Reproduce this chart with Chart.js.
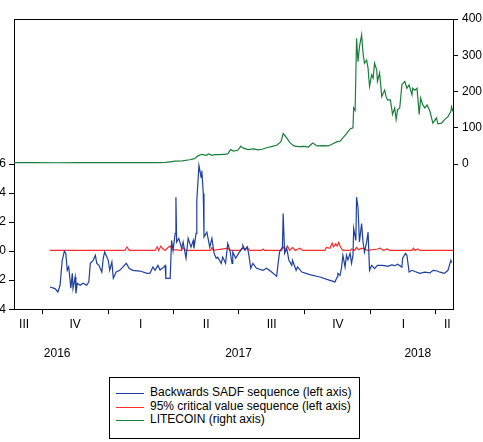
<!DOCTYPE html>
<html>
<head>
<meta charset="utf-8">
<script src="https://cdn.jsdelivr.net/npm/chart.js@4.4.1/dist/chart.umd.min.js"></script>
<style>
  html, body { margin: 0; padding: 0; background: #fff; }
  #wrap   { position: relative; width: 483px; height: 442px; overflow: hidden; }
  #box    { position: absolute; left: 0; top: 0; width: 483px; height: 386px; }
  #legend { position: absolute; left: 109px; top: 377px; width: 251px; height: 62px;
            box-sizing: border-box; border: 1px solid #000; padding-top: 8px;
            font: 12px "Liberation Sans", Arial, sans-serif; color: #000; background: #fff; }
  .row      { position: relative; height: 13.7px; line-height: 13.7px; padding-left: 40px; white-space: nowrap; }
  .row span { position: absolute; left: 6px; top: 7px; width: 28px; height: 1px; }
</style>
</head>
<body>
<div id="wrap">
  <div id="box"><canvas id="chart"></canvas></div>
  <div id="legend"></div>
</div>
<script>
// ─── data (x = days since 2016-10-01) ─────────────────────────────────────────
const X_MIN = -39, X_MAX = 571;

const quarterTicks    = [0, 92, 182, 273, 365, 457, 547];
const quarterLabelPos = [-25, 46, 137, 228, 319, 411, 502, 563];
const quarterLabels   = ['III', 'IV', 'I', 'II', 'III', 'IV', 'I', 'II'];
const yearLabelPos    = [21, 273, 522];
const yearLabels      = ['2016', '2017', '2018'];
const leftTicks       = [-4, -2, 0, 2, 4, 6];
const rightTicks      = [0, 100, 200, 300, 400];

// Backwards SADF sequence [day, value]
const sadf = [
  [11,-2.47],[18,-2.58],[22,-2.81],[25,-2.35],[28,-0.63],[31,0.0],[33,-0.15],[35,-1.32],
  [37,-1.09],[40,-2.56],[42,-1.53],[43,-2.56],[46,-1.78],[47,-2.92],[49,-2.21],[53,-2.35],
  [57,-2.21],[62,-2.35],[65,-2.12],[67,-0.84],[71,-0.63],[74,-0.29],[76,-0.84],[79,-0.98],
  [83,-1.44],[85,-0.49],[87,-0.06],[90,-0.41],[92,-0.63],[94,-1.32],[97,-0.75],[99,-1.87],
  [103,-1.44],[108,-1.32],[117,-0.84],[121,-1.18],[126,-1.32],[136,-1.37],[146,-1.53],
  [150,-1.51],[154,-1.09],[157,-1.32],[161,-0.98],[164,-1.30],[168,-1.15],[171,-0.98],
  [172,-1.87],[178,-1.87],[180,0.74],[182,0.05],[185,1.22],[186,3.72],[187,0.63],[190,0.88],
  [194,0.19],[196,0.63],[200,-0.49],[203,0.88],[207,0.28],[210,0.74],[211,0.19],[214,1.22],
  [215,3.49],[218,5.90],[221,5.09],[222,5.55],[224,3.97],[225,0.97],[229,1.31],[233,0.28],
  [236,0.88],[239,-0.15],[242,-0.49],[244,-0.41],[249,-0.84],[251,-0.41],[255,-0.84],
  [258,0.54],[261,0.06],[264,-0.84],[265,-0.06],[269,-0.49],[273,-0.15],[278,0.19],[279,0.40],
  [282,0.06],[285,0.28],[287,-0.15],[290,-1.18],[293,-0.84],[298,-1.18],[307,-1.32],
  [312,-1.18],[319,-1.44],[326,-1.74],[328,-0.84],[330,-0.06],[334,0.28],[335,2.60],
  [337,-0.15],[340,0.19],[343,-0.63],[347,-0.98],[348,-0.63],[353,-1.32],[355,-1.09],
  [361,-1.44],[372,-1.62],[386,-1.78],[400,-2.01],[407,-2.12],[410,-1.78],[411,-1.53],
  [414,-1.67],[416,-1.18],[418,-0.29],[421,-1.09],[423,-0.29],[425,-0.60],[428,-0.15],
  [430,-0.84],[432,-0.29],[433,1.57],[436,0.74],[437,3.72],[439,3.03],[441,0.63],[444,1.91],
  [446,0.63],[448,-0.06],[451,0.63],[453,1.31],[455,-1.32],[458,-0.98],[462,-1.20],
  [466,-0.98],[472,-0.98],[476,-1.00],[480,-1.05],[486,-0.95],[490,-1.00],[494,-0.90],
  [500,-1.10],[501,-0.49],[505,-0.15],[507,-0.30],[510,-1.44],[514,-1.32],[518,-1.40],
  [525,-1.53],[532,-1.45],[539,-1.50],[543,-1.32],[548,-1.35],[553,-1.45],[559,-1.53],
  [564,-1.32],[568,-0.63],[569,-0.80]
];

// 95% critical value sequence [day, value]
const critical = [
  [11,0.05],[115,0.05],[118,0.3],[121,0.05],[157,0.05],[160,0.3],[162,0.05],[165,0.35],
  [168,0.15],[171,0.05],[175,0.25],[178,0.35],[181,0.1],[194,0.05],[196,0.25],[200,0.05],
  [234,0.05],[236,0.25],[238,0.05],[258,0.2],[261,0.05],[275,0.05],[278,0.2],[282,0.1],
  [285,0.3],[288,0.05],[305,0.05],[307,0.15],[309,0.05],[333,0.05],[335,0.3],[338,0.1],
  [341,0.35],[344,0.05],[348,0.25],[352,0.05],[358,0.2],[362,0.05],[393,0.05],[395,0.25],
  [400,0.2],[403,0.55],[405,0.3],[408,0.5],[410,0.35],[412,0.6],[415,0.25],[418,0.05],
  [428,0.05],[430,0.15],[434,0.05],[437,0.25],[440,0.1],[444,0.2],[448,0.15],[452,0.05],
  [466,0.15],[470,0.2],[474,0.05],[480,0.15],[483,0.05],[514,0.05],[516,0.2],[518,0.05],
  [522,0.15],[525,0.05],[571,0.05]
];

// LITECOIN price [day, USD]
const litecoin = [
  [-39,3.8],[-10,3.8],[20,3.7],[50,3.9],[80,4.0],[100,4.3],[130,3.9],[160,4.0],[172,4.5],
  [178,6],[185,8],[195,9],[205,12],[212,15],[216,22],[222,27],[228,24],[232,28],[236,24],
  [240,26],[246,26],[252,27],[258,28],[262,40],[266,36],[272,38],[276,49],[280,44],[286,40],
  [294,42],[300,39],[306,41],[312,45],[320,49],[326,52],[332,62],[335,84],[340,72],[344,60],
  [350,50],[356,48],[364,49],[370,47],[376,58],[382,50],[390,51],[398,50],[404,56],[410,62],
  [414,63],[418,72],[423,84],[428,97],[432,100],[433,155],[435,148],[437,347],[439,282],
  [441,323],[444,356],[446,305],[448,278],[451,287],[453,264],[455,214],[458,246],[460,237],
  [462,278],[465,260],[466,228],[469,251],[472,186],[476,204],[478,186],[480,177],[484,177],
  [487,137],[490,155],[492,123],[494,150],[497,155],[500,219],[504,228],[507,209],[510,218],
  [514,191],[515,209],[518,204],[521,209],[524,137],[526,182],[529,163],[532,155],[535,163],
  [539,145],[543,113],[548,127],[550,111],[555,113],[560,124],[564,131],[568,145],[569,158],
  [571,145]
];

const SERIES = [
  { label: 'Backwards SADF sequence (left axis)',     color: '#1f3f9f', data: sadf,     axis: 'y'  },
  { label: '95% critical value sequence (left axis)', color: '#ff2a2a', data: critical, axis: 'y'  },
  { label: 'LITECOIN (right axis)',                   color: '#1a7f3c', data: litecoin, axis: 'y1' },
];

// ─── chart ────────────────────────────────────────────────────────────────────
const FONT = { family: '"Liberation Sans", Arial, sans-serif', size: 12 };
const setTicks = vals => scale => { scale.ticks = vals.map(v => ({ value: v })); };

const bottomLabelAxis = (pos, labels, weight, padding) => ({
  type: 'linear', position: 'bottom', min: X_MIN, max: X_MAX, weight,
  afterBuildTicks: setTicks(pos),
  ticks: { autoSkip: false, maxRotation: 0, padding, font: FONT, color: '#000',
           callback: (v, i) => labels[i] },
  grid: { display: false, drawTicks: false },
  border: { display: false },
});

new Chart(document.getElementById('chart').getContext('2d'), {
  type: 'line',
  data: {
    datasets: SERIES.map(s => ({
      label: s.label,
      data: s.data.map(([x, y]) => ({ x, y })),
      xAxisID: 'x', yAxisID: s.axis,
      borderColor: s.color, borderWidth: 1.2,
      pointRadius: 0, tension: 0, fill: false,
    })),
  },
  options: {
    responsive: true, maintainAspectRatio: false, animation: false,
    layout: { padding: { top: 19, left: 0, right: 0, bottom: 13 } },
    plugins: { legend: { display: false }, tooltip: { enabled: false } },
    scales: {
      x: {
        type: 'linear', position: 'bottom', min: X_MIN, max: X_MAX, weight: 0,
        afterBuildTicks: setTicks(quarterTicks),
        ticks: { display: false },
        grid: { drawOnChartArea: false, color: '#000', tickLength: 5 },
        border: { color: '#000', width: 1 },
      },
      xq: bottomLabelAxis(quarterLabelPos, quarterLabels, 1, 3),
      xy: bottomLabelAxis(yearLabelPos, yearLabels, 2, 12),
      xt: {
        type: 'linear', position: 'top', min: X_MIN, max: X_MAX,
        ticks: { display: false },
        grid: { display: false, drawTicks: false },
        border: { color: '#000', width: 1 },
      },
      y: {
        type: 'linear', position: 'left', min: -4, max: 16,
        afterBuildTicks: setTicks(leftTicks),
        afterFit: s => { s.width = 14; },
        ticks: { padding: 3, font: FONT, color: '#000' },
        grid: { drawOnChartArea: false, color: '#000', tickLength: 5 },
        border: { color: '#000', width: 1 },
      },
      y1: {
        type: 'linear', position: 'right', min: -400, max: 400,
        afterBuildTicks: setTicks(rightTicks),
        afterFit: s => { s.width = 30; },
        ticks: { padding: 4, font: FONT, color: '#000' },
        grid: { drawOnChartArea: false, color: '#000', tickLength: 5 },
        border: { color: '#000', width: 1 },
      },
    },
  },
});

// ─── legend ───────────────────────────────────────────────────────────────────
document.getElementById('legend').innerHTML = SERIES.map(s =>
  `<div class="row"><span style="background:${s.color}"></span>${s.label}</div>`).join('');
</script>
</body>
</html>
